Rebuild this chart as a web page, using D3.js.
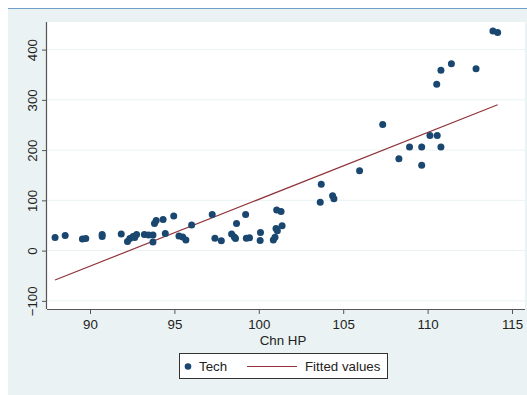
<!DOCTYPE html>
<html>
<head>
<meta charset="utf-8">
<script src="https://cdn.jsdelivr.net/npm/d3@7"></script>
<style>
  html, body { margin: 0; padding: 0; background: #ffffff; }
  svg { display: block; font-family: "Liberation Sans", Arial, sans-serif; }
</style>
</head>
<body>
<svg id="chart" width="527" height="395"></svg>
<script>
// Tech sector index against Chn HP, with a linear fit
const chnHP = [
  87.93, 88.53, 89.55, 89.75, 90.72, 90.72, 91.85, 92.22, 92.36, 92.55,
  92.76, 92.65, 93.22, 93.47, 93.73, 93.73, 93.82, 93.92, 94.33, 94.46,
  94.96, 95.27, 95.49, 95.68, 96.02, 97.24, 97.40, 97.78, 98.39, 98.55,
  98.62, 98.68, 99.22, 99.26, 99.45, 100.10, 100.08, 100.86, 100.96, 101.02,
  101.10, 101.06, 101.32, 101.38, 103.64, 103.70, 104.37, 104.45, 105.97, 107.34,
  108.30, 108.93, 109.65, 109.65, 110.14, 110.57, 110.79, 110.54, 110.79, 111.41,
  112.87, 113.87, 114.15
];
const tech = [
  26, 30, 23, 24, 32, 28, 33, 18, 24, 28,
  32, 26, 32, 31, 31, 17, 54, 60, 62, 34,
  69, 29, 27, 21, 51, 72, 24.5, 19.5, 33, 27,
  24, 54, 72, 24.5, 25.5, 36, 20, 21, 26.5, 44,
  39.5, 81, 78, 49.5, 96, 132, 109, 103, 159, 251,
  183, 206, 206, 170, 229, 229, 206, 331, 359, 372,
  362, 437, 434
];

// Fitted values at the ends of the data range
const fitX = [87.93, 114.15];
const fitY = [-58.5, 290.2];

const xTicks = [90, 95, 100, 105, 110, 115];
const yTicks = [-100, 0, 100, 200, 300, 400];

const navy = "#1a476f";
const maroon = "#90353b";
const panelBg = "#eaf2f3";
const fontSize = 13.3;

const svg = d3.select("#chart");

// Outer panel and its top rule
svg.append("rect").attr("x", 8).attr("y", 8).attr("width", 519).attr("height", 387)
  .attr("fill", panelBg);
svg.append("line").attr("x1", 8).attr("x2", 527).attr("y1", 8.5).attr("y2", 8.5)
  .attr("stroke", "#6f9fc6").attr("stroke-width", 1.2);

const plot = { left: 47, right: 525, top: 22, bottom: 309 };

const x = d3.scaleLinear().domain([90, 115]).range([90, 512]);
const y = d3.scaleLinear().domain([0, 400]).range([250.6, 49.6]);

// Plot region
svg.append("rect")
  .attr("x", plot.left).attr("y", plot.top)
  .attr("width", plot.right - plot.left).attr("height", plot.bottom - plot.top)
  .attr("fill", "#ffffff");

// Horizontal gridlines
svg.append("g").selectAll("line").data(yTicks).join("line")
  .attr("x1", plot.left).attr("x2", plot.right)
  .attr("y1", d => y(d)).attr("y2", d => y(d))
  .attr("stroke", panelBg).attr("stroke-width", 1);

// Axes
const xAxis = svg.append("g")
  .attr("transform", `translate(0,${plot.bottom})`)
  .call(d3.axisBottom(x).tickValues(xTicks).tickSize(5).tickPadding(6).tickSizeOuter(0));
xAxis.select(".domain").attr("d", `M${plot.left},0.5H${plot.right}`)
  .attr("stroke", "#555").attr("stroke-width", 1.2);
xAxis.selectAll(".tick line").attr("stroke", "#555");
xAxis.selectAll(".tick text").attr("font-size", fontSize).attr("fill", "#222")
  .attr("font-family", "Liberation Sans, Arial, sans-serif");

const yAxis = svg.append("g")
  .attr("transform", `translate(${plot.left},0)`)
  .call(d3.axisLeft(y).tickValues(yTicks).tickSize(5).tickSizeOuter(0));
yAxis.select(".domain").attr("d", `M-0.5,${plot.top}V${plot.bottom}`)
  .attr("stroke", "#555").attr("stroke-width", 1.2);
yAxis.selectAll(".tick line").attr("stroke", "#555");
yAxis.selectAll(".tick text")
  .attr("font-size", fontSize).attr("fill", "#222")
  .attr("font-family", "Liberation Sans, Arial, sans-serif")
  .attr("x", null).attr("dy", null)
  .attr("text-anchor", "middle")
  .attr("transform", "translate(-10.5,0) rotate(-90)");

// Axis title
svg.append("text").attr("x", 283).attr("y", 344.5)
  .attr("text-anchor", "middle").attr("font-size", fontSize).attr("fill", "#222")
  .text("Chn HP");

// Fitted line
svg.append("line")
  .attr("x1", x(fitX[0])).attr("y1", y(fitY[0]))
  .attr("x2", x(fitX[1])).attr("y2", y(fitY[1]))
  .attr("stroke", maroon).attr("stroke-width", 1.2);

// Scatter points
svg.append("g").selectAll("circle").data(chnHP.map((v, i) => [v, tech[i]])).join("circle")
  .attr("cx", d => x(d[0])).attr("cy", d => y(d[1]))
  .attr("r", 3.5).attr("fill", navy);

// Legend
const lg = svg.append("g");
lg.append("rect").attr("x", 179.5).attr("y", 353.5).attr("width", 208).attr("height", 25)
  .attr("fill", "#ffffff").attr("stroke", "#333").attr("stroke-width", 1);
lg.append("circle").attr("cx", 188).attr("cy", 366.5).attr("r", 3.3).attr("fill", navy);
lg.append("text").attr("x", 199).attr("y", 371.2).attr("font-size", fontSize).attr("fill", "#222").text("Tech");
lg.append("line").attr("x1", 247).attr("x2", 297).attr("y1", 366.5).attr("y2", 366.5)
  .attr("stroke", maroon).attr("stroke-width", 1.2);
lg.append("text").attr("x", 305).attr("y", 371.2).attr("font-size", fontSize).attr("fill", "#222").text("Fitted values");
</script>
</body>
</html>
